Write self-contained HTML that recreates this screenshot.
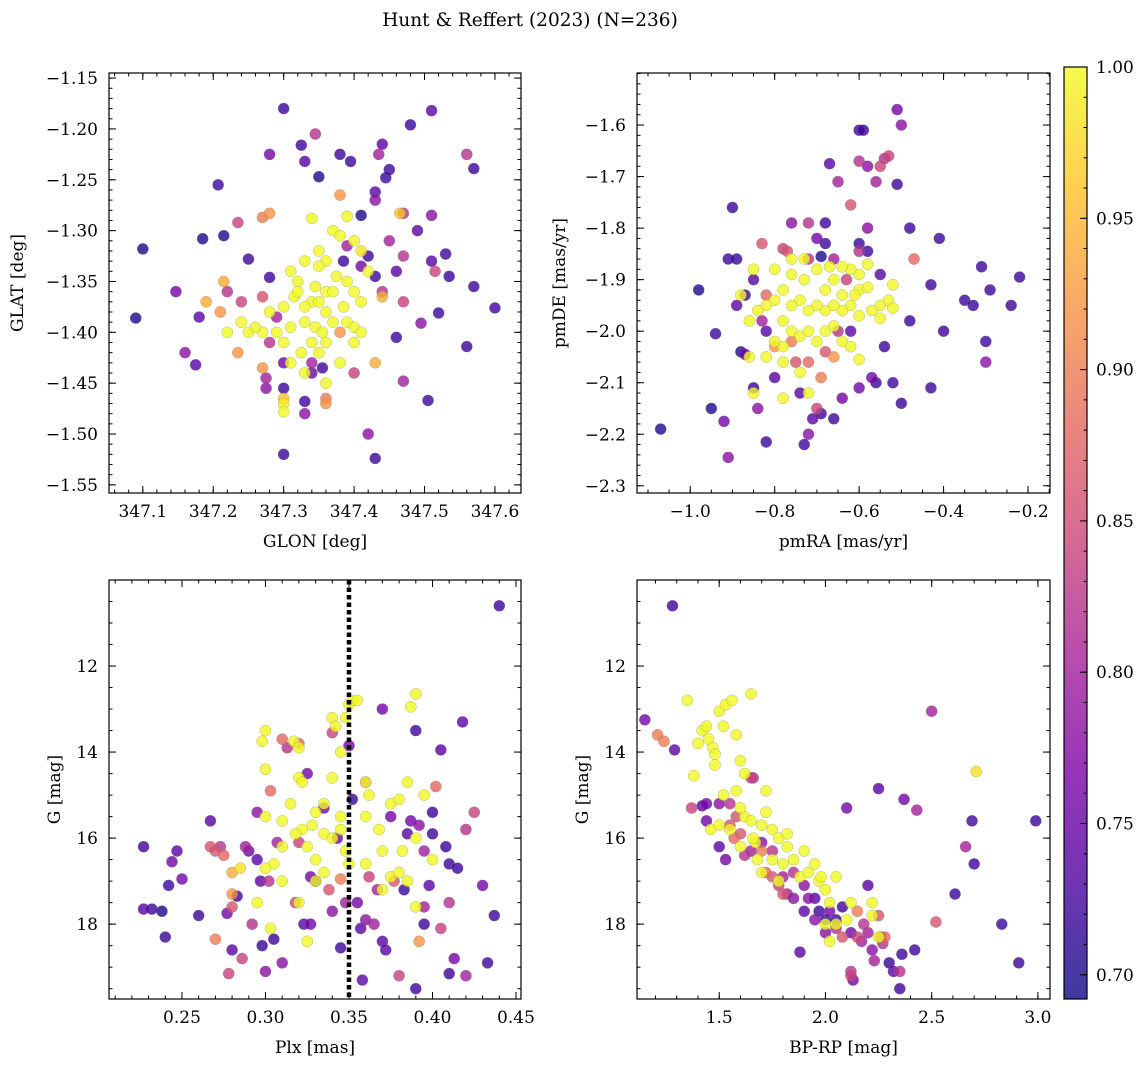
<!DOCTYPE html>
<html><head><meta charset="utf-8"><style>
body{margin:0;background:#fff;width:1148px;height:1067px;overflow:hidden}
svg text{font-family:"DejaVu Serif","Liberation Serif",serif;fill:#000}
</style></head><body>
<svg id="fig" width="1148" height="1067" xmlns="http://www.w3.org/2000/svg">
<rect width="1148" height="1067" fill="#fff"/>
<text x="530" y="26" font-size="18.5" text-anchor="middle">Hunt &amp; Reffert (2023) (N=236)</text>
</svg>
<script>
const p1 = [[347.10,-1.318,0.70],[347.09,-1.386,0.70],[347.147,-1.36,0.76],[347.16,-1.42,0.78],[347.175,-1.432,0.74],[347.185,-1.308,0.70],[347.207,-1.255,0.72],[347.215,-1.305,0.70],[347.235,-1.292,0.84],[347.27,-1.287,0.90],[347.28,-1.283,0.92],[347.28,-1.225,0.76],[347.30,-1.18,0.72],[347.325,-1.216,0.72],[347.345,-1.205,0.82],[347.33,-1.232,0.74],[347.35,-1.247,0.70],[347.38,-1.225,0.72],[347.395,-1.232,0.72],[347.435,-1.225,0.80],[347.44,-1.215,0.74],[347.445,-1.248,0.72],[347.45,-1.24,0.72],[347.48,-1.196,0.72],[347.51,-1.182,0.74],[347.56,-1.225,0.82],[347.57,-1.239,0.72],[347.38,-1.265,0.92],[347.43,-1.262,0.74],[347.43,-1.27,0.78],[347.41,-1.285,0.70],[347.47,-1.283,0.82],[347.465,-1.283,0.96],[347.51,-1.285,0.78],[347.49,-1.30,0.74],[347.53,-1.323,0.72],[347.535,-1.345,0.72],[347.51,-1.33,0.74],[347.515,-1.34,0.84],[347.57,-1.355,0.72],[347.60,-1.376,0.72],[347.56,-1.414,0.72],[347.52,-1.381,0.72],[347.505,-1.467,0.72],[347.495,-1.391,0.78],[347.47,-1.37,0.84],[347.47,-1.448,0.80],[347.46,-1.405,0.72],[347.44,-1.365,0.94],[347.43,-1.43,0.94],[347.43,-1.345,0.72],[347.42,-1.50,0.78],[347.43,-1.524,0.72],[347.40,-1.44,0.84],[347.38,-1.40,0.92],[347.33,-1.468,0.72],[347.33,-1.48,0.78],[347.30,-1.52,0.72],[347.30,-1.455,0.72],[347.30,-1.465,0.96],[347.36,-1.465,0.90],[347.36,-1.47,0.92],[347.34,-1.44,0.76],[347.355,-1.435,0.72],[347.34,-1.43,0.80],[347.275,-1.455,0.78],[347.275,-1.445,0.80],[347.27,-1.435,0.92],[347.235,-1.42,0.92],[347.21,-1.38,0.92],[347.22,-1.36,0.82],[347.24,-1.37,0.84],[347.215,-1.35,0.94],[347.25,-1.328,0.72],[347.27,-1.365,0.86],[347.28,-1.346,0.72],[347.28,-1.41,0.82],[347.29,-1.385,0.80],[347.3,-1.43,0.76],[347.385,-1.33,0.72],[347.39,-1.315,0.80],[347.41,-1.335,0.76],[347.42,-1.325,0.72],[347.45,-1.31,0.80],[347.46,-1.34,0.74],[347.44,-1.36,0.82],[347.47,-1.325,0.82],[347.18,-1.385,0.74],[347.19,-1.37,0.94],
[347.34,-1.288,1],[347.39,-1.286,1],[347.37,-1.30,1],[347.38,-1.305,1],[347.40,-1.31,1],[347.36,-1.33,1],[347.33,-1.33,1],[347.35,-1.335,1],[347.31,-1.34,1],[347.32,-1.35,1],[347.345,-1.355,1],[347.36,-1.36,1],[347.375,-1.345,1],[347.39,-1.35,1],[347.40,-1.36,1],[347.41,-1.37,1],[347.385,-1.375,1],[347.36,-1.38,1],[347.34,-1.37,1],[347.33,-1.375,1],[347.315,-1.365,1],[347.30,-1.375,1],[347.28,-1.38,1],[347.27,-1.40,1],[347.29,-1.40,1],[347.30,-1.41,1],[347.31,-1.395,1],[347.33,-1.39,1],[347.345,-1.395,1],[347.355,-1.40,1],[347.37,-1.39,1],[347.39,-1.39,1],[347.40,-1.395,1],[347.36,-1.41,1],[347.34,-1.41,1],[347.325,-1.42,1],[347.35,-1.42,1],[347.31,-1.43,1],[347.33,-1.44,1],[347.36,-1.45,1],[347.38,-1.43,1],[347.40,-1.41,1],[347.41,-1.40,1],[347.42,-1.34,1],[347.41,-1.32,0.98],[347.24,-1.39,1],[347.25,-1.40,1],[347.22,-1.40,1],[347.26,-1.395,1],[347.30,-1.478,1],[347.30,-1.47,0.99],[347.35,-1.32,1],[347.32,-1.36,1],[347.35,-1.37,1],[347.37,-1.36,1]];
const p2 = [[-1.07,-2.19,0.70],[-0.98,-1.92,0.70],[-0.95,-2.15,0.70],[-0.91,-2.245,0.78],[-0.92,-2.175,0.76],[-0.94,-2.005,0.72],[-0.91,-1.86,0.72],[-0.90,-1.76,0.72],[-0.89,-1.86,0.72],[-0.89,-1.95,0.74],[-0.87,-2.045,0.76],[-0.88,-2.04,0.70],[-0.85,-2.11,0.72],[-0.84,-2.15,0.78],[-0.83,-1.83,0.86],[-0.82,-2.215,0.72],[-0.80,-2.09,0.74],[-0.78,-1.84,0.84],[-0.77,-1.845,0.86],[-0.76,-1.79,0.78],[-0.73,-2.22,0.72],[-0.72,-2.20,0.78],[-0.71,-2.17,0.74],[-0.72,-1.79,0.82],[-0.70,-1.82,0.76],[-0.70,-2.15,0.84],[-0.68,-1.79,0.72],[-0.67,-1.675,0.74],[-0.65,-1.71,0.80],[-0.62,-1.755,0.86],[-0.60,-1.61,0.72],[-0.59,-1.61,0.72],[-0.60,-1.67,0.82],[-0.58,-1.68,0.78],[-0.55,-1.68,0.84],[-0.53,-1.66,0.84],[-0.54,-1.665,0.82],[-0.56,-1.71,0.80],[-0.51,-1.57,0.76],[-0.50,-1.60,0.78],[-0.51,-1.715,0.72],[-0.48,-1.80,0.72],[-0.47,-1.86,0.88],[-0.43,-1.91,0.72],[-0.41,-1.82,0.72],[-0.35,-1.94,0.72],[-0.33,-1.95,0.72],[-0.31,-1.875,0.72],[-0.29,-1.92,0.72],[-0.22,-1.895,0.72],[-0.24,-1.95,0.72],[-0.30,-2.02,0.72],[-0.30,-2.06,0.78],[-0.40,-2.00,0.72],[-0.43,-2.11,0.72],[-0.48,-1.98,0.72],[-0.50,-2.14,0.72],[-0.52,-2.10,0.72],[-0.55,-1.89,0.74],[-0.54,-2.03,0.72],[-0.57,-2.09,0.76],[-0.56,-2.10,0.72],[-0.60,-2.11,0.76],[-0.62,-2.00,0.74],[-0.64,-2.13,0.76],[-0.66,-2.17,0.72],[-0.69,-2.16,0.72],[-0.74,-2.12,0.74],[-0.58,-1.80,0.78],[-0.60,-1.83,0.72],[-0.60,-1.845,0.82],[-0.58,-1.845,0.72],[-0.66,-1.86,0.80],[-0.68,-1.83,0.72],[-0.69,-1.855,0.70],[-0.72,-1.86,0.82],[-0.82,-2.0,0.74],[-0.83,-1.98,0.80],[-0.85,-1.90,0.74],[-0.87,-1.93,0.72],[-0.69,-2.09,0.90],[-0.68,-2.04,0.86],[-0.66,-2.05,0.92],[-0.72,-2.06,0.88],[-0.80,-2.03,0.92],[-0.76,-2.02,0.90],[-0.75,-2.06,0.86],[-0.65,-2.00,0.82],[-0.63,-1.90,0.84],[-0.82,-1.93,0.88],
[-0.76,-1.89,1],[-0.73,-1.90,1],[-0.70,-1.88,1],[-0.68,-1.92,1],[-0.66,-1.90,1],[-0.64,-1.93,1],[-0.62,-1.95,1],[-0.60,-1.92,1],[-0.58,-1.915,1],[-0.55,-1.95,1],[-0.53,-1.94,1],[-0.52,-1.91,1],[-0.58,-1.87,1],[-0.60,-1.89,1],[-0.61,-1.93,1],[-0.64,-1.96,1],[-0.66,-1.95,1],[-0.68,-1.96,1],[-0.70,-1.95,1],[-0.72,-1.96,1],[-0.74,-1.94,1],[-0.76,-1.95,1],[-0.78,-1.92,1],[-0.80,-1.94,1],[-0.82,-1.95,1],[-0.84,-1.96,1],[-0.86,-1.98,1],[-0.88,-1.93,1],[-0.85,-1.88,1],[-0.80,-1.88,1],[-0.78,-1.98,1],[-0.76,-2.00,1],[-0.74,-2.01,1],[-0.72,-2.00,1],[-0.70,-2.02,1],[-0.68,-2.00,1],[-0.66,-1.99,1],[-0.64,-2.02,1],[-0.62,-2.03,1],[-0.60,-2.055,1],[-0.78,-2.03,1],[-0.80,-2.02,1],[-0.82,-2.05,1],[-0.86,-2.05,1],[-0.78,-2.06,1],[-0.74,-2.08,1],[-0.72,-2.12,1],[-0.78,-2.13,1],[-0.85,-2.12,1],[-0.76,-1.86,1],[-0.62,-1.88,1],[-0.60,-1.97,1],[-0.57,-1.96,1],[-0.55,-1.975,1],[-0.52,-1.955,1],[-0.64,-1.875,1],[-0.67,-1.875,1],[-0.73,-1.86,1]];
const p3 = [[0.44,10.6,0.72],[0.227,16.2,0.72],[0.227,17.65,0.74],[0.232,17.65,0.72],[0.238,17.7,0.70],[0.24,18.3,0.72],[0.242,17.1,0.72],[0.244,16.55,0.76],[0.247,16.3,0.74],[0.25,16.95,0.76],[0.267,15.6,0.74],[0.267,16.2,0.86],[0.27,16.3,0.86],[0.27,18.35,0.90],[0.273,16.2,0.82],[0.275,16.4,0.88],[0.277,17.75,0.76],[0.278,19.15,0.84],[0.28,17.6,0.86],[0.28,17.3,0.92],[0.28,16.8,0.94],[0.28,18.6,0.74],[0.283,17.35,0.72],[0.285,16.7,0.98],[0.286,18.8,0.84],[0.288,16.2,0.80],[0.29,16.3,0.76],[0.292,18.0,0.82],[0.295,16.5,0.74],[0.295,15.4,0.78],[0.297,17.0,0.74],[0.298,18.5,0.72],[0.30,19.1,0.78],[0.302,17.0,0.82],[0.303,14.9,0.88],[0.305,18.35,0.72],[0.307,16.1,0.80],[0.31,18.9,0.78],[0.313,13.9,0.82],[0.318,17.5,0.84],[0.32,16.1,0.84],[0.323,18.0,0.74],[0.325,14.5,0.76],[0.327,18.0,0.76],[0.33,17.0,0.72],[0.335,15.3,0.76],[0.338,17.2,0.86],[0.34,13.55,0.84],[0.343,16.0,0.76],[0.345,16.95,0.90],[0.345,18.55,0.72],[0.348,17.5,0.80],[0.35,13.85,0.76],[0.352,15.1,0.72],[0.355,17.5,0.76],[0.357,18.1,0.74],[0.358,19.3,0.74],[0.36,14.7,0.84],[0.36,17.9,0.78],[0.362,16.9,0.84],[0.365,18.0,0.80],[0.367,17.2,0.80],[0.37,18.4,0.74],[0.372,18.6,0.74],[0.375,15.5,0.76],[0.377,17.0,0.86],[0.38,19.2,0.84],[0.383,17.2,0.72],[0.385,15.9,0.74],[0.387,15.6,0.76],[0.39,19.5,0.72],[0.392,18.4,0.92],[0.392,15.7,0.78],[0.395,16.3,0.80],[0.395,18.0,0.72],[0.398,17.1,0.74],[0.40,15.9,0.72],[0.402,14.8,0.88],[0.405,13.95,0.74],[0.405,18.1,0.84],[0.408,16.2,0.72],[0.41,16.6,0.72],[0.41,17.5,0.82],[0.41,19.15,0.72],[0.413,18.8,0.76],[0.415,16.7,0.72],[0.418,13.3,0.74],[0.42,15.8,0.82],[0.42,19.2,0.80],[0.425,15.4,0.84],[0.43,17.1,0.76],[0.433,18.9,0.72],[0.437,17.8,0.72],[0.40,15.4,0.72],[0.39,13.5,0.72],[0.37,13.0,0.76],[0.31,13.7,0.88],[0.32,13.8,0.88],[0.327,16.9,0.76],[0.34,17.7,0.78],[0.395,17.6,0.80],[0.26,17.8,0.72],
[0.30,13.5,1],[0.298,13.75,1],[0.30,14.4,1],[0.31,15.6,1],[0.317,13.75,1],[0.32,13.9,1],[0.33,15.4,1],[0.335,15.9,1],[0.34,13.2,1],[0.342,13.4,1],[0.345,14.0,1],[0.35,12.9,1],[0.352,12.8,1],[0.348,13.2,1],[0.355,12.8,1],[0.36,14.7,1],[0.36,15.5,1],[0.362,15.0,1],[0.368,15.8,1],[0.37,16.3,1],[0.375,15.2,1],[0.38,15.1,1],[0.382,16.3,1],[0.39,16.0,1],[0.39,12.65,1],[0.387,12.95,1],[0.395,15.0,1],[0.40,16.5,1],[0.375,16.9,1],[0.37,17.2,1],[0.36,16.6,1],[0.35,16.6,1],[0.348,16.3,1],[0.345,15.8,1],[0.335,16.8,1],[0.33,16.5,1],[0.325,16.2,1],[0.322,15.8,1],[0.318,15.9,1],[0.31,16.2,1],[0.305,16.6,1],[0.30,16.7,1],[0.295,17.5,1],[0.303,18.1,1],[0.31,17.0,1],[0.32,17.5,1],[0.325,18.4,1],[0.33,17.0,1],[0.34,16.0,1],[0.38,16.8,1],[0.385,17.0,1],[0.39,17.6,1],[0.315,15.2,1],[0.328,15.7,1],[0.30,15.5,1],[0.32,14.6,1],[0.385,14.7,1],[0.34,14.6,1],[0.322,14.7,1],[0.335,15.2,1],[0.345,15.5,1]];
const p4 = [[1.28,10.6,0.72],[1.15,13.25,0.76],[1.21,13.6,0.90],[1.24,13.75,0.90],[1.29,13.95,0.74],[1.37,15.3,0.84],[1.44,15.2,0.76],[1.42,15.25,0.74],[1.44,15.6,0.76],[1.50,16.2,0.74],[1.53,16.5,0.76],[1.55,15.7,0.86],[1.57,16.0,0.88],[1.58,15.5,0.86],[1.62,16.4,0.82],[1.65,14.6,0.84],[1.66,14.6,0.82],[1.70,16.3,0.90],[1.72,16.8,0.88],[1.75,16.9,0.86],[1.78,17.1,0.84],[1.80,17.3,0.86],[1.82,17.3,0.80],[1.85,16.8,0.82],[1.88,18.65,0.74],[1.90,17.1,0.78],[1.92,17.4,0.78],[1.95,17.4,0.74],[1.97,17.7,0.72],[2.0,17.9,0.72],[2.02,17.7,0.76],[2.05,17.9,0.72],[2.08,17.6,0.72],[2.10,15.3,0.76],[2.12,18.2,0.76],[2.15,18.3,0.84],[2.17,18.4,0.80],[2.18,18.0,0.82],[2.20,17.1,0.74],[2.22,18.6,0.78],[2.23,18.85,0.80],[2.25,14.85,0.74],[2.26,18.3,0.84],[2.27,18.45,0.82],[2.30,18.9,0.72],[2.32,19.1,0.74],[2.35,19.1,0.82],[2.35,19.5,0.72],[2.36,18.7,0.72],[2.42,18.6,0.72],[2.37,15.1,0.76],[2.43,15.35,0.80],[2.50,13.05,0.80],[2.52,17.95,0.86],[2.61,17.3,0.72],[2.66,16.2,0.80],[2.69,15.6,0.72],[2.70,16.6,0.72],[2.71,14.45,0.98],[2.83,18.0,0.72],[2.91,18.9,0.72],[2.99,15.6,0.72],[2.12,19.2,0.84],[2.13,19.3,0.76],[2.12,19.1,0.82],[2.05,18.1,0.82],[2.08,18.3,0.86],[2.15,17.7,0.90],[2.25,17.8,0.86],[2.28,18.3,0.88],[1.95,17.9,0.78],[1.90,17.7,0.74],[1.85,17.4,0.78],[1.80,16.9,0.80],[1.75,16.3,0.82],[1.70,16.1,0.78],[1.65,16.3,0.80],[1.60,15.9,0.86],[1.55,15.2,0.82],[1.50,15.2,0.78],[2.0,18.2,0.78],[2.2,18.2,0.80],
[1.35,12.8,1],[1.38,14.55,1],[1.42,13.5,1],[1.45,13.7,1],[1.47,13.9,1],[1.48,14.05,1],[1.50,13.05,1],[1.52,13.4,1],[1.53,12.9,1],[1.56,12.8,1],[1.58,13.6,1],[1.60,14.2,1],[1.62,14.5,1],[1.65,12.65,1],[1.46,15.8,1],[1.50,15.7,1],[1.55,15.8,1],[1.60,16.2,1],[1.62,15.5,1],[1.65,15.6,1],[1.67,16.1,1],[1.68,16.5,1],[1.70,15.7,1],[1.72,15.4,1],[1.75,15.8,1],[1.78,16.0,1],[1.80,16.6,1],[1.82,16.2,1],[1.85,16.5,1],[1.88,16.9,1],[1.90,16.3,1],[1.92,16.8,1],[1.95,16.6,1],[1.97,17.0,1],[2.00,17.2,1],[2.02,17.5,1],[2.0,18.0,1],[2.02,18.4,1],[2.05,18.0,1],[2.10,17.9,1],[2.12,17.5,1],[2.22,17.8,1],[2.25,18.3,1],[2.22,17.5,1],[1.70,16.8,1],[1.75,16.5,1],[1.58,14.9,1],[1.52,15.0,1],[1.44,13.4,1],[1.40,13.8,1],[1.48,14.3,1],[1.72,14.9,1],[1.60,15.3,1],[1.66,16.0,1],[1.78,17.0,1],[1.82,15.9,1],[1.98,16.9,1],[2.05,16.9,1]];
const ticks1x = [347.1,347.2,347.3,347.4,347.5,347.6];
const ticks1y = [-1.15,-1.20,-1.25,-1.30,-1.35,-1.40,-1.45,-1.50,-1.55];
const ticks2x = [-1.0,-0.8,-0.6,-0.4,-0.2];
const ticks2y = [-1.6,-1.7,-1.8,-1.9,-2.0,-2.1,-2.2,-2.3];
const ticksGx = [0.25,0.30,0.35,0.40,0.45];
const ticksG = [12,14,16,18];
const ticks4x = [1.5,2.0,2.5,3.0];
const cbTicks = [0.70,0.75,0.80,0.85,0.90,0.95,1.00];
const plxLine = 0.35;
const CMIN=0.692, CMAX=1.0;
const NS="http://www.w3.org/2000/svg";
const svg=document.getElementById('fig');
const plasma=[[13,8,135],[76,2,161],[126,3,168],[169,35,149],[204,71,120],[229,107,93],[248,149,64],[253,197,39],[240,249,33]];
function cmap(v){let t=(v-CMIN)/(CMAX-CMIN);t=Math.max(0,Math.min(1,t))*8;const i=Math.min(7,Math.floor(t)),f=t-i;const a=plasma[i],b=plasma[i+1];return `rgb(${a.map((c,k)=>Math.round(c+(b[k]-c)*f)).join(',')})`;}
function mk(tag,attrs,parent){const e=document.createElementNS(NS,tag);for(const k in attrs)e.setAttribute(k,attrs[k]);(parent||svg).appendChild(e);return e;}
function fmt(v,d){return v.toFixed(d).replace('-','\u2212');}
const FS=17;
function panel(o){
  const g=mk('g',{});
  
  
  const sx=v=>o.x0+(v-o.xmin)/(o.xmax-o.xmin)*(o.x1-o.x0);
  const sy=o.inv?(v=>o.y0+(v-o.ymin)/(o.ymax-o.ymin)*(o.y1-o.y0)):(v=>o.y1-(v-o.ymin)/(o.ymax-o.ymin)*(o.y1-o.y0));
  const pts=o.data.slice().sort((a,b)=>a[2]-b[2]);
  const clip='c'+o.name;
  const cp=mk('clipPath',{id:clip},g);mk('rect',{x:o.x0,y:o.y0,width:o.x1-o.x0,height:o.y1-o.y0},cp);
  const pg=mk('g',{'clip-path':`url(#${clip})`},g);
  pts.forEach(p=>{const c=mk('circle',{cx:sx(p[0]),cy:sy(p[1]),r:5.6,fill:cmap(p[2]),'fill-opacity':0.8,stroke:'#777','stroke-opacity':0.5,'stroke-width':0.5},pg);
    
    });
  if(o.vline!==undefined){const l=mk('line',{x1:sx(o.vline),x2:sx(o.vline),y1:o.y0,y2:o.y1,stroke:'#000','stroke-width':4.5,'stroke-dasharray':'4.5,3'},g);
    
    }
  mk('rect',{x:o.x0,y:o.y0,width:o.x1-o.x0,height:o.y1-o.y0,fill:'none',stroke:'#000','stroke-width':1.2},g);
  const tk=(x1,y1,x2,y2)=>mk('line',{x1,y1,x2,y2,stroke:'#000','stroke-width':1},g);
  const xs=o.xt[1]-o.xt[0];
  for(let v=o.xt[0]-xs*3;v<=o.xmax+1e-9;v+=xs/o.xm){if(v<o.xmin-1e-9)continue;const X=sx(v);tk(X,o.y0,X,o.y0+3.5);tk(X,o.y1,X,o.y1-3.5);}
  o.xt.forEach(v=>{const X=sx(v);tk(X,o.y0,X,o.y0+7);tk(X,o.y1,X,o.y1-7);
    const t=mk('text',{x:X,y:o.y1+24,'font-size':FS,'text-anchor':'middle'},g);t.textContent=fmt(v,o.xd);
    
    });
  const ys=Math.abs(o.yt[1]-o.yt[0]);
  for(let v=Math.min(...o.yt)-ys*3;v<=o.ymax+1e-9;v+=ys/o.ym){if(v<o.ymin-1e-9)continue;const Y=sy(v);tk(o.x0,Y,o.x0+3.5,Y);tk(o.x1,Y,o.x1-3.5,Y);}
  o.yt.forEach(v=>{const Y=sy(v);tk(o.x0,Y,o.x0+7,Y);tk(o.x1,Y,o.x1-7,Y);
    const t=mk('text',{x:o.x0-11,y:Y+6,'font-size':FS,'text-anchor':'end'},g);t.textContent=fmt(v,o.yd);
    
    });
  const xl=mk('text',{x:(o.x0+o.x1)/2,y:o.y1+54,'font-size':FS,'text-anchor':'middle'},g);xl.textContent=o.xl;
  
  
  const yx=o.ylx, yy=(o.y0+o.y1)/2;
  const yl=mk('text',{x:yx,y:yy,'font-size':FS,'text-anchor':'middle',transform:`rotate(-90 ${yx} ${yy})`},g);yl.textContent=o.yl;
  
  
}
panel({name:'glon-glat-panel',data:p1,x0:109,x1:521,y0:73,y1:493,xmin:347.052,xmax:347.637,ymin:-1.558,ymax:-1.145,xt:ticks1x,yt:ticks1y,xm:5,ym:5,xd:1,yd:2,xl:'GLON [deg]',yl:'GLAT [deg]',ylx:23});
panel({name:'proper-motion-panel',data:p2,x0:637,x1:1050,y0:73,y1:493,xmin:-1.126,xmax:-0.148,ymin:-2.314,ymax:-1.499,xt:ticks2x,yt:ticks2y,xm:4,ym:5,xd:1,yd:1,xl:'pmRA [mas/yr]',yl:'pmDE [mas/yr]',ylx:565});
panel({name:'parallax-magnitude-panel',data:p3,x0:109,x1:521,y0:580,y1:999,xmin:0.2063,xmax:0.453,ymin:10.0,ymax:19.74,inv:true,xt:ticksGx,yt:ticksG,xm:5,ym:4,xd:2,yd:0,xl:'Plx [mas]',yl:'G [mag]',ylx:60,vline:plxLine});
panel({name:'color-magnitude-panel',data:p4,x0:637,x1:1050,y0:580,y1:999,xmin:1.113,xmax:3.057,ymin:10.0,ymax:19.74,inv:true,xt:ticks4x,yt:ticksG,xm:5,ym:4,xd:1,yd:0,xl:'BP-RP [mag]',yl:'G [mag]',ylx:588});
(function(){
  const g=mk('g',{});
  
  
  const x0=1064,x1=1087,y0=67,y1=999;
  const defs=mk('defs',{},g);const lg=mk('linearGradient',{id:'cbg',x1:0,y1:1,x2:0,y2:0},defs);
  plasma.forEach((c,i)=>mk('stop',{offset:i/8,'stop-color':`rgb(${c})`,'stop-opacity':0.8},lg));
  mk('rect',{x:x0,y:y0,width:x1-x0,height:y1-y0,fill:'url(#cbg)',stroke:'#000','stroke-width':1.2},g);
  const sy=v=>y1-(v-CMIN)/(CMAX-CMIN)*(y1-y0);
  for(let v=0.70;v<=1.0001;v+=0.01){const Y=sy(v);mk('line',{x1:x1,x2:x1-3.5,y1:Y,y2:Y,stroke:'#000'},g);}
  cbTicks.forEach(v=>{const Y=sy(v);mk('line',{x1:x1,x2:x1-7,y1:Y,y2:Y,stroke:'#000'},g);
    const t=mk('text',{x:x1+9,y:Y+6,'font-size':FS},g);t.textContent=v.toFixed(2);
    
    });
})();
</script>
</body></html>
